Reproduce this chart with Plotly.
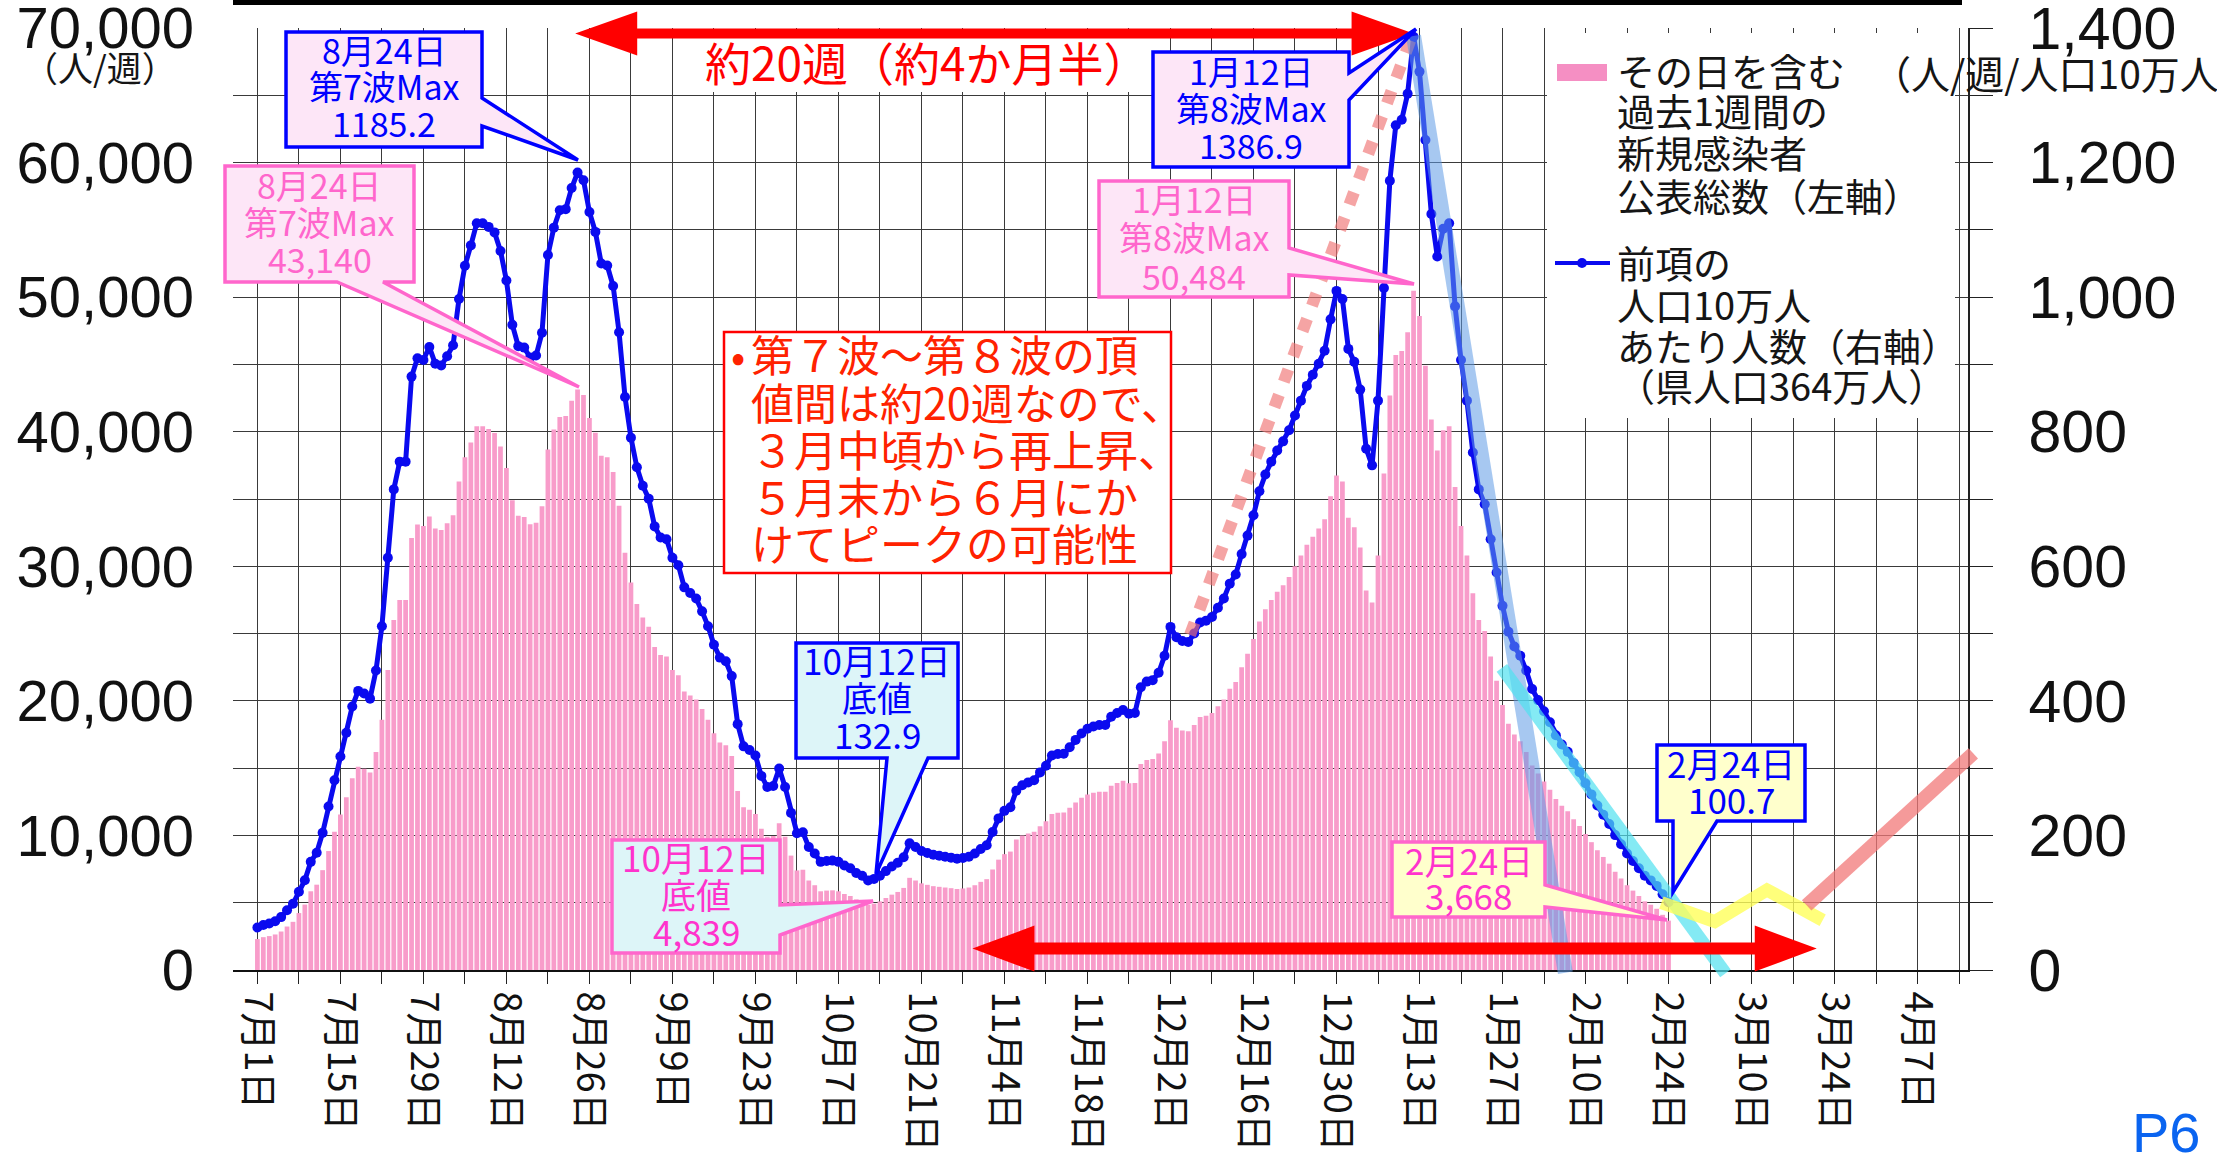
import plotly.graph_objects as go
import pandas as pd

# ------------------------------------------------------------------ data
start_date = "2022-07-01"
# その日を含む過去1週間の新規感染者公表総数 (left axis, 人/週)
weekly_new_cases = [
    2300, 2440, 2520, 2640, 2860, 3230, 3580, 4230, 4860, 5850,
    6340, 7420, 8840, 10270, 11550, 12830, 14250, 15100, 14960, 14680,
    16200, 18600, 22300, 26000, 27500, 27500, 32100, 33100, 33000, 33700,
    32800, 32700, 33200, 33800, 36300, 38100, 39200, 40400, 40400, 40200,
    39900, 38900, 37300, 34900, 33750, 33670, 33130, 33240, 34470, 38680,
    40160, 41100, 41160, 42300, 43140, 42720, 41010, 39930, 38220, 38110,
    37000, 34500, 31000, 28800, 27200, 26200, 25500, 24000, 23400, 23300,
    22300, 21900, 20700, 20400, 20100, 19400, 18600, 17600, 16900, 16700,
    15900, 13300, 12100, 11900, 11600, 10500, 9900, 9950, 10900, 9900,
    8500, 7400, 7450, 6650, 6300, 5850, 5900, 5920, 5850, 5650,
    5500, 5250, 5100, 4839, 4930, 5100, 5350, 5600, 5800, 6100,
    6850, 6650, 6440, 6330, 6230, 6180, 6130, 6080, 6020, 6060,
    6130, 6300, 6550, 6750, 7470, 8200, 8610, 8800, 9700, 10000,
    10150, 10270, 10690, 11050, 11600, 11680, 11700, 12050, 12450, 12800,
    13050, 13170, 13250, 13250, 13700, 13900, 14070, 13870, 13900, 15300,
    15600, 15680, 16080, 17000, 18560, 18000, 17800, 17750, 18200, 18800,
    18900, 19100, 19600, 20100, 20900, 21400, 22500, 23500, 24600, 25900,
    26800, 27500, 28100, 28600, 29200, 30000, 30800, 31600, 32200, 32800,
    33500, 35200, 36740, 36300, 33600, 32900, 31400, 28200, 27300, 30800,
    36900, 42700, 45700, 46000, 47400, 50484, 48600, 44900, 40900, 38600,
    40100, 40400, 35900, 33000, 30800, 28000, 26000, 25200, 23300, 21500,
    19700, 18300, 17500, 17000, 16200, 15200, 14600, 14000, 13400, 12700,
    12200, 11800, 11200, 10700, 10100, 9500, 8900, 8400, 7900, 7300,
    6800, 6300, 5900, 5500, 5100, 4850, 4550, 4100, 3668,
]
population_man = 364  # 県人口364万人 -> 人口10万人あたり (right axis)
per_100k = [round(c / population_man * 10, 1) for c in weekly_new_cases]

dates = pd.date_range(start_date, periods=len(weekly_new_cases), freq="D")
day_no = [int((d - dates[0]).days) for d in dates]

tick_days = list(range(0, 281, 14))
tick_labels = ["7月1日", "7月15日", "7月29日", "8月12日", "8月26日", "9月9日",
               "9月23日", "10月7日", "10月21日", "11月4日", "11月18日", "12月2日",
               "12月16日", "12月30日", "1月13日", "1月27日", "2月10日", "2月24日",
               "3月10日", "3月24日", "4月7日"]

# hand-drawn trend / outlook guides (day number, per-100k value)
trend_rise_x, trend_rise_y = [157.3, 195.0], [498, 1395]
trend_drop_x, trend_drop_y = [195.0, 220.6], [1388, -4]
trend_slow_x, trend_slow_y = [209.9, 247.6], [449, -5]
outlook_flat_x, outlook_flat_y = [236.8, 245.8, 254.6, 264.0], [100, 72, 119, 74]
outlook_rise_x, outlook_rise_y = [261.3, 289.4], [96, 322]
arrow_top_days, arrow_top_level = [53.6, 195], 69600
arrow_bottom_days, arrow_bottom_level = [120.6, 263.0], 1590

# ------------------------------------------------------------------ geometry
W, H = 2217, 1160
PL, PR, PT, PB = 233.0, 1968.0, 28.0, 970.0
XMIN, XMAX = -4.115, 288.51
Y1MAX, Y2MAX = 70000, 1400
CJK = "Noto Sans CJK JP"
NUM = "Liberation Sans"
TEXT_DY = -3     # small vertical correction for annotation boxes
LEFT_DX = -8     # left-anchored text correction


def fx(px):
    return (px - PL) / (PR - PL)


def fy(py):
    return (PB - py) / (PB - PT)


def day_px(d):
    return PL + (d - XMIN) / (XMAX - XMIN) * (PR - PL)


def left_py(v):
    return PB - v / Y1MAX * (PB - PT)


def right_py(v):
    return PB - v / Y2MAX * (PB - PT)


def P(x, y):
    return f"{fx(x):.5f},{fy(y):.5f}"


def poly(points, close=True):
    s = "M " + " L ".join(P(x, y) for x, y in points)
    return s + (" Z" if close else "")


shapes = []
annotations = []


def guide(xs, ys, color, width, dash="solid"):
    pts = [(day_px(x), right_py(y)) for x, y in zip(xs, ys)]
    shapes.append(dict(type="path", xref="paper", yref="paper", layer="above",
                       path=poly(pts, close=False),
                       line=dict(color=color, width=width, dash=dash)))


def double_arrow(x_left, x_right, yc, color="#FF0000", hl=62, hh=23, sh=6):
    pts = [(x_left, yc), (x_left + hl, yc - hh), (x_left + hl, yc - sh),
           (x_right - hl, yc - sh), (x_right - hl, yc - hh), (x_right, yc),
           (x_right - hl, yc + hh), (x_right - hl, yc + sh),
           (x_left + hl, yc + sh), (x_left + hl, yc + hh)]
    shapes.append(dict(type="path", xref="paper", yref="paper", layer="above",
                       path=poly(pts), fillcolor=color, line=dict(width=0)))


def rect(x0, y0, x1, y1, fill, border=None, lw=0):
    shapes.append(dict(type="rect", xref="paper", yref="paper", layer="above",
                       x0=fx(x0), x1=fx(x1), y0=fy(y1), y1=fy(y0),
                       fillcolor=fill,
                       line=dict(color=border or fill, width=lw)))


def text(s, x, y, size, color, anchor="center", family=CJK):
    if anchor == "left":
        x += LEFT_DX
    annotations.append(dict(xref="paper", yref="paper", x=fx(x), y=fy(y + TEXT_DY),
                            text=s, showarrow=False, xanchor=anchor,
                            yanchor="middle",
                            font=dict(family=family, size=size, color=color)))


def callout(box, side, base, tip, fill, border, lines, ys, tcolor, size=34, lw=3.5):
    x0, y0, x1, y1 = box
    if side == "right":
        pts = [(x0, y0), (x1, y0), (x1, base[0]), tip, (x1, base[1]),
               (x1, y1), (x0, y1)]
    else:  # bottom
        pts = [(x0, y0), (x1, y0), (x1, y1), (base[1], y1), tip,
               (base[0], y1), (x0, y1)]
    shapes.append(dict(type="path", xref="paper", yref="paper", layer="above",
                       path=poly(pts), fillcolor=fill,
                       line=dict(color=border, width=lw)))
    cx = (x0 + x1) / 2
    for s, y in zip(lines, ys):
        text(s, cx, y, size, tcolor)


# ------------------------------------------------------------------ figure
fig = go.Figure()
fig.add_trace(go.Bar(x=day_no, y=weekly_new_cases, yaxis="y",
                     marker=dict(color="#F89CCA", line=dict(width=0)),
                     name="その日を含む過去1週間の新規感染者公表総数（左軸）",
                     showlegend=False, hoverinfo="skip"))
fig.add_trace(go.Scatter(x=day_no, y=per_100k, yaxis="y2", mode="lines+markers",
                         line=dict(color="#0A0AEF", width=5),
                         marker=dict(size=10, color="#0A0AEF"),
                         name="前項の人口10万人あたり人数（右軸）",
                         showlegend=False, hoverinfo="skip"))

# guides
guide(trend_rise_x, trend_rise_y, "rgba(240,115,115,0.65)", 12, "13px,14px")
guide(trend_drop_x, trend_drop_y, "rgba(95,155,230,0.55)", 15)
guide(trend_slow_x, trend_slow_y, "rgba(80,225,240,0.70)", 13)
guide(outlook_flat_x, outlook_flat_y, "rgba(255,255,90,0.80)", 13)
guide(outlook_rise_x, outlook_rise_y, "rgba(242,120,120,0.75)", 14)

# top arrow with label
rect(695, 36, 1135, 92, "white")
double_arrow(day_px(arrow_top_days[0]), day_px(arrow_top_days[1]),
             left_py(arrow_top_level), hh=22, sh=5)
text("約20週（約4か月半）", 927, 64, 46, "#FF0000")

# bottom arrow
double_arrow(day_px(arrow_bottom_days[0]), day_px(arrow_bottom_days[1]),
             left_py(arrow_bottom_level), hh=23, sh=6)

# comment box
rect(724, 332, 1171, 573, "white", "#FF0000", 2.5)
text("•", 738, 356, 42, "#FF2200")
comment_lines = ["第７波～第８波の頂", "値間は約20週なので、", "３月中頃から再上昇、",
                 "５月末から６月にか", "けてピークの可能性"]
for s, y in zip(comment_lines, [356, 404, 451, 498, 545]):
    text(s, 757, y, 43, "#FF2200", anchor="left")

# callouts
PINKFILL, CYANFILL, YELFILL = "#FDE6F7", "#DDF5F8", "#FFFFCC"
BLUE, PINK, MAGENTA = "#0000FF", "#FF66CC", "#FF33CC"
callout((286, 32, 482, 147), "right", (98, 126), (578, 160), PINKFILL, BLUE,
        ["8月24日", "第7波Max", "1185.2"], [52, 89, 126], BLUE)
callout((225, 166, 414, 282), "bottom", (337, 383), (579, 387), PINKFILL, PINK,
        ["8月24日", "第7波Max", "43,140"], [188, 225, 262], PINK)
callout((1153, 52, 1349, 167), "right", (73, 100), (1416, 29), PINKFILL, BLUE,
        ["1月12日", "第8波Max", "1386.9"], [73, 111, 148], BLUE)
callout((1099, 181, 1289, 297), "right", (248, 275), (1414, 284), PINKFILL, PINK,
        ["1月12日", "第8波Max", "50,484"], [202, 240, 278], PINK)
callout((796, 643, 958, 758), "bottom", (887, 928), (876, 874), CYANFILL, BLUE,
        ["10月12日", "底値", "132.9"], [662, 699, 736], BLUE, size=35)
callout((612, 840, 780, 953), "right", (905, 935), (873, 901), CYANFILL, PINK,
        ["10月12日", "底値", "4,839"], [859, 896, 933], MAGENTA, size=35)
callout((1657, 745, 1805, 821), "bottom", (1673, 1717), (1673, 892), YELFILL, BLUE,
        ["2月24日", "100.7"], [765, 801], BLUE, size=35)
callout((1392, 842, 1545, 917), "right", (885, 907), (1667, 920), YELFILL, PINK,
        ["2月24日", "3,668"], [862, 897], MAGENTA, size=35)

# legend (drawn manually)
rect(1547, 33, 1955, 418, "white")
rect(1557, 64, 1607, 81, "#F58FC3")
shapes.append(dict(type="line", xref="paper", yref="paper", layer="above",
                   x0=fx(1555), x1=fx(1610), y0=fy(263), y1=fy(263),
                   line=dict(color="#0A0AEF", width=4)))
shapes.append(dict(type="circle", xref="paper", yref="paper", layer="above",
                   x0=fx(1577), x1=fx(1587), y0=fy(268), y1=fy(258),
                   fillcolor="#0A0AEF", line=dict(width=0)))
legend_lines = [("その日を含む", 72), ("過去1週間の", 113), ("新規感染者", 155),
                ("公表総数（左軸）", 198), ("前項の", 265), ("人口10万人", 306),
                ("あたり人数（右軸）", 347), ("（県人口364万人）", 387)]
for s, y in legend_lines:
    text(s, 1623, y, 38, "#151515", anchor="left")

# axis unit labels
text("（人/週）", 100, 69, 35, "#151515")
text("（人/週/人口10万人）", 1878, 75, 39, "#151515", anchor="left")

# top black bar and page number
rect(233, 0, 1962, 5, "#000000")
text("P6", 2166, 1135, 56, "#0A64F0", family=NUM)

GRID = "#3a3a3a"
fig.update_layout(
    width=W, height=H,
    margin=dict(l=PL, r=W - PR, t=PT, b=H - PB, autoexpand=False),
    paper_bgcolor="white", plot_bgcolor="white",
    bargap=0.2, showlegend=False,
    font=dict(family=CJK, color="#111111"),
    xaxis=dict(range=[XMIN, XMAX], tickmode="array", tickvals=tick_days,
               ticktext=tick_labels, tickangle=90,
               ticks="outside", ticklen=12, tickwidth=1.3, tickcolor="#222",
               showgrid=True, gridcolor=GRID, gridwidth=1.2,
               minor=dict(tickmode="linear", tick0=0, dtick=7, ticks="outside",
                          ticklen=12, tickwidth=1.3, tickcolor="#222",
                          showgrid=True, gridcolor=GRID, gridwidth=1.2),
               showline=True, linecolor="#111", linewidth=1.6,
               zeroline=False, automargin=False,
               tickfont=dict(family=CJK, size=38, color="#111")),
    yaxis=dict(range=[0, Y1MAX], dtick=10000, tickformat=",d",
               showgrid=True, gridcolor=GRID, gridwidth=1.2,
               minor=dict(dtick=5000, showgrid=True, gridcolor=GRID, gridwidth=1.2),
               ticks="", showline=False, zeroline=False, automargin=False,
               ticklabelstandoff=38, ticklabeloverflow="allow",
               tickfont=dict(family=NUM, size=58, color="#111")),
    yaxis2=dict(range=[0, Y2MAX], overlaying="y", side="right", dtick=200,
                tickformat=",d", showgrid=False, zeroline=False,
                ticks="outside", ticklen=23, tickwidth=1.3, tickcolor="#222",
                minor=dict(dtick=100, ticks="outside", ticklen=23,
                           tickwidth=1.3, tickcolor="#222", showgrid=False),
                showline=True, linecolor="#222", linewidth=1.5,
                automargin=False, ticklabelstandoff=24, ticklabeloverflow="allow",
                tickfont=dict(family=NUM, size=59, color="#111")),
    shapes=shapes, annotations=annotations,
)

fig.write_html("out.html", config={"displayModeBar": False},
               post_script="document.body.style.margin='0px';")
